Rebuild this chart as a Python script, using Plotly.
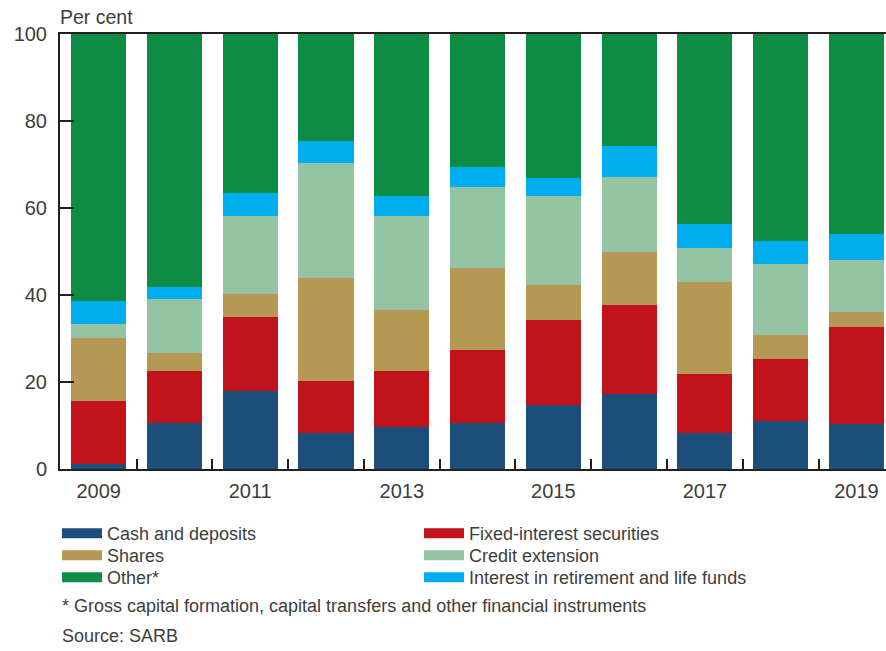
import plotly.graph_objects as go

years = [2009, 2010, 2011, 2012, 2013, 2014, 2015, 2016, 2017, 2018, 2019]
cash = [1.2, 10.6, 17.9, 8.3, 9.7, 10.6, 14.6, 17.2, 8.3, 11.0, 10.4]
fixed = [14.4, 11.9, 17.0, 11.9, 12.8, 16.8, 19.7, 20.5, 13.5, 14.3, 22.2]
shares = [14.5, 4.2, 5.3, 23.7, 14.1, 18.8, 8.0, 12.2, 21.2, 5.5, 3.5]
credit = [3.2, 12.4, 18.0, 26.4, 21.6, 18.6, 20.5, 17.2, 7.8, 16.3, 11.9]
interest = [5.3, 2.7, 5.2, 5.1, 4.6, 4.6, 4.1, 7.2, 5.5, 5.3, 6.0]
other = [61.4, 58.2, 36.6, 24.6, 37.2, 30.6, 33.1, 25.7, 43.7, 47.6, 46.0]

x_labels = [2009, 2011, 2013, 2015, 2017, 2019]
y_ticks = [0, 20, 40, 60, 80, 100]

# (name, values, colour, legend row)
series = [
    ("Cash and deposits", cash, "#1b4f7a", "legend"),
    ("Fixed-interest securities", fixed, "#c1131c", "legend"),
    ("Shares", shares, "#b69855", "legend2"),
    ("Credit extension", credit, "#94c4a3", "legend2"),
    ("Interest in retirement and life funds", interest, "#00aeef", "legend3"),
    ("Other*", other, "#0e8c43", "legend3"),
]
legend_order = {"Cash and deposits": 1, "Fixed-interest securities": 2, "Shares": 1,
                "Credit extension": 2, "Other*": 1, "Interest in retirement and life funds": 2}

TXT = "#3d3d3d"
FONT = "Liberation Sans, Arial, sans-serif"
AX = "#231f20"

fig = go.Figure()
for name, vals, col, lg in series:
    fig.add_trace(go.Bar(x=years, y=vals, name=name, marker=dict(color=col, line=dict(width=0)),
                         showlegend=False))
for name, vals, col, lg in series:
    fig.add_trace(go.Scatter(x=[None], y=[None], mode="lines", name=name,
                             line=dict(color=col, width=10), legend=lg,
                             legendrank=legend_order[name], showlegend=True))

def leg(top_px):
    return dict(orientation="h", xref="container", yref="container",
                x=57 / 886, y=(651 - top_px) / 651, xanchor="left", yanchor="top",
                entrywidth=307, entrywidthmode="pixels", itemwidth=40,
                font=dict(size=18, color=TXT), traceorder="normal",
                bgcolor="rgba(0,0,0,0)")

fig.update_layout(
    width=886, height=651,
    margin=dict(l=60, r=0, t=34, b=182),
    plot_bgcolor="white", paper_bgcolor="white",
    barmode="stack", bargap=0.274,
    font=dict(family=FONT, color=TXT, size=18),
    legend=leg(515), legend2=leg(537), legend3=leg(559),
    xaxis=dict(range=[2008.49, 2019.39], tickmode="array", tickvals=x_labels,
               ticks="inside", ticklen=0, showline=True, linecolor=AX, linewidth=2,
               mirror=True, showgrid=False, zeroline=False, automargin=False,
               tickfont=dict(size=20, color=TXT), ticklabelstandoff=3,
               minor=dict(tickmode="array", tickvals=[y + 0.5 for y in years[:-1]],
                          ticks="inside", ticklen=10, tickwidth=2, tickcolor=AX,
                          showgrid=False)),
    yaxis=dict(range=[0, 100], tickmode="array", tickvals=y_ticks, ticks="inside",
               ticklen=14, tickwidth=2, tickcolor=AX, showline=True, linecolor=AX,
               linewidth=2, showgrid=False, zeroline=False, automargin=False,
               tickfont=dict(size=20, color=TXT), ticklabelstandoff=7),
    annotations=[
        dict(text="Per cent", xref="paper", yref="paper", x=-0.003, y=(469 - 17) / 435,
             xanchor="left", yanchor="middle", showarrow=False, font=dict(size=19.5, color=TXT)),
        dict(text="* Gross capital formation, capital transfers and other financial instruments",
             xref="paper", yref="paper", x=0, y=(469 - 606) / 435, xanchor="left",
             yanchor="middle", showarrow=False, font=dict(size=18, color=TXT)),
        dict(text="Source: SARB", xref="paper", yref="paper", x=0, y=(469 - 636) / 435,
             xanchor="left", yanchor="middle", showarrow=False, font=dict(size=18, color=TXT)),
    ],
)

fig.write_html("out.html", config={"displayModeBar": False},
               post_script="document.body.style.margin='0px';")
